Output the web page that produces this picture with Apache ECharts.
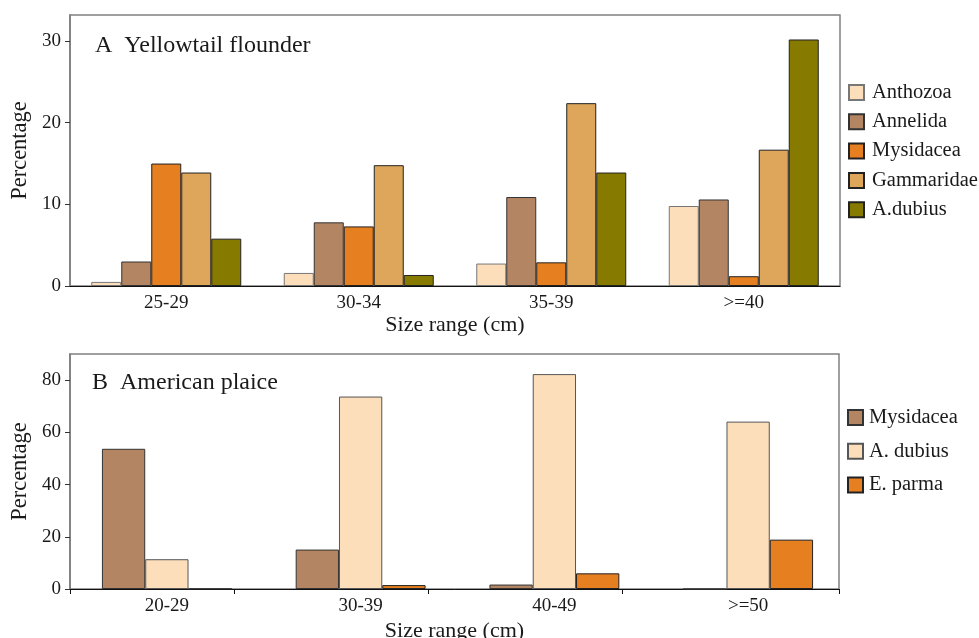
<!DOCTYPE html>
<html>
<head>
<meta charset="utf-8">
<script src="https://cdn.jsdelivr.net/npm/echarts@6/dist/echarts.min.js"></script>
<style>
html,body{margin:0;padding:0;background:#fff;}
#c{width:979px;height:638px;}
</style>
</head>
<body>
<div id="c"></div>
<script>
// ---- Panel A: Yellowtail flounder ----
const catsA = ['25-29', '30-34', '35-39', '>=40'];
const anthozoa = [0.5, 1.6, 2.75, 9.8];
const annelida = [3.0, 7.8, 10.9, 10.6];
const mysidaceaA = [15.0, 7.3, 2.9, 1.2];
const gammaridae = [13.9, 14.8, 22.4, 16.7];
const adubiusA = [5.8, 1.35, 13.9, 30.2];
const ticksA = [0, 10, 20, 30];

// ---- Panel B: American plaice ----
const catsB = ['20-29', '30-39', '40-49', '>=50'];
const mysidaceaB = [53.7, 15.1, 1.7, 0];
const adubiusB = [11.4, 73.7, 82.3, 64.1];
const eparma = [0, 1.5, 6.0, 18.9];
const ticksB = [0, 20, 40, 60, 80];
const tickPosB = [0, 0.855, 1.864, 2.870, 4];

const FONT = '"Liberation Serif", "Times New Roman", serif';
const TXT = '#1a1a1a';
const BPRE = 'B ';

const C_ANTH = '#FDDEBA', C_ANNE = '#B38563', C_MYS = '#E67F20', C_GAM = '#DDA65A', C_ADU = '#877A00';

function bar(name, data, color, border, x, y, w) {
  return {
    type: 'bar', name: name, data: data, xAxisIndex: x, yAxisIndex: y,
    barWidth: w, barGap: '0%',
    itemStyle: { color: color, borderColor: border, borderWidth: 1 },
    emphasis: { disabled: true }
  };
}

const chart = echarts.init(document.getElementById('c'), null, { renderer: 'canvas' });
chart.setOption({
  animation: false,
  backgroundColor: '#fff',
  textStyle: { fontFamily: FONT, color: TXT },
  grid: [
    { left: 70, top: 15, width: 770, height: 271, show: true, borderColor: '#808080', borderWidth: 1.5, backgroundColor: 'transparent', outerBoundsMode: 'none', containLabel: false },
    { left: 70, top: 354, width: 775, height: 235, show: false, outerBoundsMode: 'none', containLabel: false },
    { left: 70, top: 354, width: 769, height: 235, show: true, borderColor: '#808080', borderWidth: 1.5, backgroundColor: 'transparent', outerBoundsMode: 'none', containLabel: false }
  ],
  xAxis: [
    {
      type: 'category', gridIndex: 0, data: catsA,
      name: 'Size range (cm)', nameLocation: 'middle', nameGap: 28,
      nameTextStyle: { fontFamily: FONT, fontSize: 22, color: TXT },
      axisLine: { lineStyle: { color: '#111', width: 1 } },
      axisTick: { length: 5, lineStyle: { color: '#111' } },
      axisLabel: { fontFamily: FONT, fontSize: 19, color: TXT, margin: 8 }
    },
    {
      type: 'category', gridIndex: 1, data: catsB,
      axisLine: { show: false }, axisTick: { show: false },
      axisLabel: { fontFamily: FONT, fontSize: 19, color: TXT, margin: 8 }
    },
    {
      type: 'value', gridIndex: 2, min: 0, max: 4,
      name: 'Size range (cm)', nameLocation: 'middle', nameGap: 31,
      nameTextStyle: { fontFamily: FONT, fontSize: 22, color: TXT },
      axisLine: { lineStyle: { color: '#111', width: 1 } },
      axisTick: { length: 5, lineStyle: { color: '#111' }, customValues: tickPosB },
      axisLabel: { show: false },
      splitLine: { show: false }
    }
  ],
  yAxis: [
    {
      type: 'value', gridIndex: 0, min: 0, max: 33.2,
      name: 'Percentage', nameLocation: 'middle', nameGap: 35,
      nameTextStyle: { fontFamily: FONT, fontSize: 22.5, color: TXT },
      axisLine: { show: true, lineStyle: { color: '#7a7a7a', width: 1.5 } },
      axisTick: { show: true, length: 5, lineStyle: { color: '#333' }, customValues: ticksA },
      axisLabel: { fontFamily: FONT, fontSize: 19, color: TXT, margin: 9, customValues: ticksA },
      splitLine: { show: false }
    },
    {
      type: 'value', gridIndex: 1, min: 0, max: 90,
      axisLine: { show: false }, axisTick: { show: false }, axisLabel: { show: false }, splitLine: { show: false }
    },
    {
      type: 'value', gridIndex: 2, min: 0, max: 90,
      name: 'Percentage', nameLocation: 'middle', nameGap: 35,
      nameTextStyle: { fontFamily: FONT, fontSize: 22.5, color: TXT },
      axisLine: { show: true, lineStyle: { color: '#7a7a7a', width: 1.5 } },
      axisTick: { show: true, length: 5, lineStyle: { color: '#333' }, customValues: ticksB },
      axisLabel: { fontFamily: FONT, fontSize: 19, color: TXT, margin: 9, customValues: ticksB },
      splitLine: { show: false }
    }
  ],
  legend: [
    {
      data: ['Anthozoa', 'Annelida', 'Mysidacea', 'Gammaridae', 'A.dubius'],
      orient: 'vertical', left: 848, top: 82, padding: 0, itemWidth: 15, itemHeight: 15, itemGap: 8.3,
      icon: 'rect', selectedMode: false,
      textStyle: { fontFamily: FONT, fontSize: 20.5, color: TXT, lineHeight: 20, padding: [0, 0, 0, 3] }
    },
    {
      data: [BPRE + 'Mysidacea', BPRE + 'A. dubius', BPRE + 'E. parma'],
      orient: 'vertical', left: 847, top: 407, padding: 0, itemWidth: 15, itemHeight: 15, itemGap: 12.7,
      icon: 'rect', selectedMode: false,
      formatter: function (n) { return n.indexOf(BPRE) === 0 ? n.slice(BPRE.length) : n; },
      textStyle: { fontFamily: FONT, fontSize: 20.5, color: TXT, lineHeight: 20, padding: [0, 0, 0, 1] }
    }
  ],
  graphic: [
    { type: 'text', x: 95, y: 46, style: { text: 'A  Yellowtail flounder', font: '24px ' + FONT, fill: TXT, verticalAlign: 'middle' } },
    { type: 'text', x: 92, y: 383, style: { text: 'B  American plaice', font: '24px ' + FONT, fill: TXT, verticalAlign: 'middle' } }
  ],
  series: [
    bar('Anthozoa', anthozoa, C_ANTH, '#777', 0, 0, 30),
    bar('Annelida', annelida, C_ANNE, '#333', 0, 0, 30),
    bar('Mysidacea', mysidaceaA, C_MYS, '#222', 0, 0, 30),
    bar('Gammaridae', gammaridae, C_GAM, '#222', 0, 0, 30),
    bar('A.dubius', adubiusA, C_ADU, '#222', 0, 0, 30),
    bar(BPRE + 'Mysidacea', mysidaceaB, C_ANNE, '#333', 1, 1, 43.3),
    bar(BPRE + 'A. dubius', adubiusB, C_ANTH, '#555', 1, 1, 43.3),
    bar(BPRE + 'E. parma', eparma, C_MYS, '#222', 1, 1, 43.3)
  ]
});
</script>
</body>
</html>
